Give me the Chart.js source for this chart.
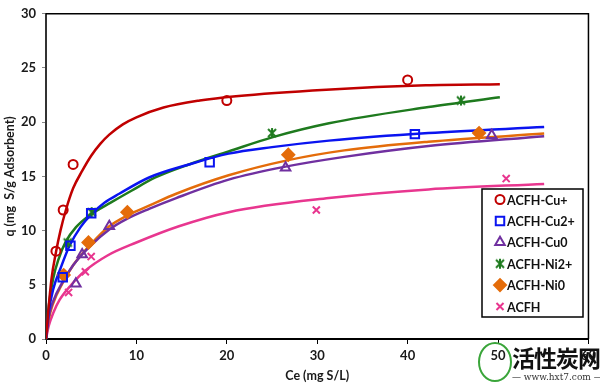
<!DOCTYPE html>
<html>
<head>
<meta charset="utf-8">
<script src="https://cdn.jsdelivr.net/npm/chart.js@4.4.1/dist/chart.umd.min.js"></script>
<style>
  body { margin: 0; background: #fff; }
  #wrap { position: relative; width: 600px; height: 385px; }
  #mark { position: absolute; left: 477px; top: 341px; width: 123px; height: 44px; }
  #logo { position: absolute; left: 1px; top: 1px; width: 30px; height: 36px; border: 2px solid #3aa53a; border-radius: 50%; }
  #mark .cn { position: absolute; left: 35px; top: -1px; font: bold 23px "Noto Sans CJK SC"; color: #111; letter-spacing: -1px; }
  #mark .url { position: absolute; left: 35px; top: 31px; font: 9px "DejaVu Serif"; color: #333; white-space: nowrap; }
</style>
</head>
<body>
<div id="wrap">
  <canvas id="c" width="600" height="385"></canvas>
  <div id="mark"><div id="logo"></div><div class="cn">活性炭网</div><div class="url">— www.hxt7.com —</div></div>
</div>
<script>
// measured points (Ce, q)
const cuPlusCe = [1.1, 1.9, 3.0, 20.0, 40.0]
const cuPlusQ = [8.1, 11.9, 16.1, 22.0, 23.9]
const cu2Ce = [1.85, 2.7, 5.0, 18.1, 40.8]
const cu2Q = [5.7, 8.6, 11.6, 16.3, 18.9]
const cu0Ce = [3.3, 4.0, 7.0, 26.5, 49.3]
const cu0Q = [5.1, 7.8, 10.4, 15.8, 18.8]
const ni2Ce = [2.4, 5.05, 25.0, 45.9]
const ni2Q = [8.9, 11.7, 19.0, 22.0]
const ni0Ce = [1.96, 4.7, 9.0, 26.8, 47.9]
const ni0Q = [5.9, 8.9, 11.7, 17.0, 19.0]
const acfhCe = [2.5, 4.35, 5.0, 29.9, 50.9]
const acfhQ = [4.3, 6.2, 7.6, 11.9, 14.8]

// fitted isotherm curves
const cuPlusFitCe = [0, 0.3, 0.6, 1.1, 1.6, 2.2, 3, 4, 5, 6, 7, 8.5, 10, 13, 17, 21, 31, 42, 50.2]
const cuPlusFitQ = [0, 3, 5.5, 8.0, 10, 11.9, 13.9, 15.5, 16.9, 18.0, 18.85, 19.8, 20.45, 21.35, 22.0, 22.4, 23.0, 23.4, 23.5]
const cu2FitCe = [0, 0.3, 0.8, 1.6, 2.6, 3.8, 5, 6.5, 8.1, 11.4, 15.8, 20.2, 25, 31.3, 42.3, 55.1]
const cu2FitQ = [0, 2.5, 4.6, 6.5, 8.6, 10.3, 11.5, 12.6, 13.4, 14.9, 16.1, 17.1, 17.7, 18.3, 19.0, 19.55]
const cu0FitCe = [0, 0.3, 0.8, 1.8, 3, 4.8, 7, 9, 11.4, 14.4, 20.2, 26.5, 33, 42.3, 55.1]
const cu0FitQ = [0, 2.0, 3.5, 5.2, 6.8, 8.5, 10.1, 11.1, 12.0, 13.0, 14.7, 15.9, 16.8, 17.8, 18.7]
const ni2FitCe = [0, 0.3, 0.8, 1.4, 2.2, 3.3, 4.8, 7.2, 9.5, 12.1, 15.8, 20.2, 25, 31.3, 42.3, 50.2]
const ni2FitQ = [0, 3, 5.6, 7.4, 9.0, 10.3, 11.4, 12.6, 13.7, 14.9, 16.1, 17.3, 18.6, 19.9, 21.4, 22.3]
const ni0FitCe = [0, 0.3, 0.8, 1.8, 3, 4.8, 7, 9, 11.4, 14.4, 20.2, 26.8, 33, 42.3, 55.1]
const ni0FitQ = [0, 1.8, 3.3, 5.1, 6.8, 8.6, 10.4, 11.4, 12.3, 13.4, 15.1, 16.5, 17.4, 18.2, 18.95]
const acfhFitCe = [0, 0.3, 0.8, 1.5, 2.8, 4.2, 6.8, 10, 14.7, 20.2, 31.3, 42.3, 55.1]
const acfhFitQ = [0, 1.2, 2.4, 3.6, 5.0, 6.2, 7.7, 8.9, 10.4, 11.7, 13.0, 13.8, 14.3]

const xTicks = [0, 10, 20, 30, 40, 50, 60]
const yTicks = [0, 5, 10, 15, 20, 25, 30]

const zip = (xs, ys) => xs.map((x, i) => ({ x, y: ys[i] }))

// excel style asterisk marker
function starMarker(color) {
  const c = document.createElement("canvas")
  c.width = 14; c.height = 14
  const g = c.getContext("2d")
  g.strokeStyle = color
  g.lineWidth = 2
  g.beginPath()
  g.moveTo(3, 3); g.lineTo(11, 11)
  g.moveTo(11, 3); g.lineTo(3, 11)
  g.moveTo(7, 2); g.lineTo(7, 12)
  g.stroke()
  return c
}

const series = [
  { label: "ACFH-Cu+", color: "#c00000", ce: cuPlusCe, q: cuPlusQ, fx: cuPlusFitCe, fy: cuPlusFitQ, style: "circle", r: 4.5, fill: false },
  { label: "ACFH-Cu2+", color: "#0a14f0", ce: cu2Ce, q: cu2Q, fx: cu2FitCe, fy: cu2FitQ, style: "rect", r: 6, fill: false },
  { label: "ACFH-Cu0", color: "#7030a0", ce: cu0Ce, q: cu0Q, fx: cu0FitCe, fy: cu0FitQ, style: "triangle", r: 5.5, fill: false },
  { label: "ACFH-Ni2+", color: "#1e7a1e", ce: ni2Ce, q: ni2Q, fx: ni2FitCe, fy: ni2FitQ, style: starMarker("#1e7a1e"), r: 5, fill: false },
  { label: "ACFH-Ni0", color: "#e46c0a", ce: ni0Ce, q: ni0Q, fx: ni0FitCe, fy: ni0FitQ, style: "rectRot", r: 6, fill: true },
  { label: "ACFH", color: "#e8368f", ce: acfhCe, q: acfhQ, fx: acfhFitCe, fy: acfhFitQ, style: "crossRot", r: 5, fill: false },
]

const markerSets = series.map(s => ({
  label: s.label,
  data: zip(s.ce, s.q),
  showLine: false,
  pointStyle: s.style,
  pointRadius: s.r,
  pointBorderWidth: 2,
  pointBorderColor: s.color,
  pointBackgroundColor: s.fill ? s.color : "rgba(0,0,0,0)",
}))

const curveSets = series.map(s => ({
  label: s.label + " fit",
  data: zip(s.fx, s.fy),
  showLine: true,
  borderColor: s.color,
  borderWidth: 2.5,
  pointRadius: 0,
  cubicInterpolationMode: "monotone",
}))

const frame = {
  id: "frame",
  afterDatasetsDraw(chart) {
    const { ctx, chartArea: a } = chart
    ctx.save()
    ctx.strokeStyle = "#000"
    ctx.lineWidth = 1.5
    ctx.beginPath()
    ctx.moveTo(a.left, a.top)
    ctx.lineTo(a.right, a.top)
    ctx.lineTo(a.right, a.bottom)
    ctx.stroke()
    ctx.restore()
  }
}

const boxLegend = {
  id: "boxLegend",
  afterDraw(chart) {
    const ctx = chart.ctx
    const x0 = 482, y0 = 189, w = 101, h = 128
    ctx.save()
    ctx.fillStyle = "#fff"
    ctx.fillRect(x0, y0, w, h)
    ctx.strokeStyle = "#000"
    ctx.lineWidth = 1.5
    ctx.strokeRect(x0, y0, w, h)
    ctx.font = "bold 12.5px Lato"
    ctx.textBaseline = "middle"
    series.forEach((s, i) => {
      const y = y0 + 10.5 + i * 21.4
      ctx.strokeStyle = s.color
      ctx.fillStyle = s.fill ? s.color : "rgba(0,0,0,0)"
      ctx.lineWidth = 2
      Chart.helpers.drawPoint(ctx, { pointStyle: s.style, radius: s.r, rotation: 0, borderWidth: 2 }, x0 + 18, y)
      ctx.fillStyle = "#111"
      ctx.fillText(s.label, x0 + 25, y + 1)
    })
    ctx.restore()
  }
}

const tickFont = { family: "Lato", size: 13, weight: "bold" }

new Chart(document.getElementById("c"), {
  type: "scatter",
  data: { datasets: [...markerSets, ...curveSets] },
  plugins: [frame, boxLegend],
  options: {
    responsive: false,
    animation: false,
    layout: { padding: { top: 7, right: 9, left: 0, bottom: 0 } },
    plugins: { legend: { display: false }, tooltip: { enabled: false } },
    scales: {
      x: {
        type: "linear",
        min: 0,
        max: 60,
        afterBuildTicks: (scale) => { scale.ticks = xTicks.map(v => ({ value: v })) },
        afterFit: (scale) => { scale.height = 46 },
        ticks: { font: tickFont, color: "#1a1a1a", padding: 4 },
        grid: { drawOnChartArea: false, tickLength: 5, color: "#000" },
        border: { color: "#000", width: 2 },
        title: { display: true, text: "Ce (mg S/L)", font: { family: "Lato", size: 12.5, weight: "bold" }, color: "#1a1a1a", padding: { top: 0, bottom: 2 } },
      },
      y: {
        min: 0,
        max: 30,
        afterBuildTicks: (scale) => { scale.ticks = yTicks.map(v => ({ value: v })) },
        afterFit: (scale) => { scale.width = 46 },
        ticks: { font: tickFont, color: "#1a1a1a", padding: 6 },
        grid: { drawOnChartArea: false, tickLength: 4, color: "#888" },
        border: { color: "#333", width: 2 },
        title: { display: true, text: "q (mg  S/g Adsorbent)", font: { family: "Lato", size: 12.5, weight: "bold" }, color: "#1a1a1a", padding: { top: 2, bottom: 0 } },
      },
    },
  },
})
</script>
</body>
</html>
